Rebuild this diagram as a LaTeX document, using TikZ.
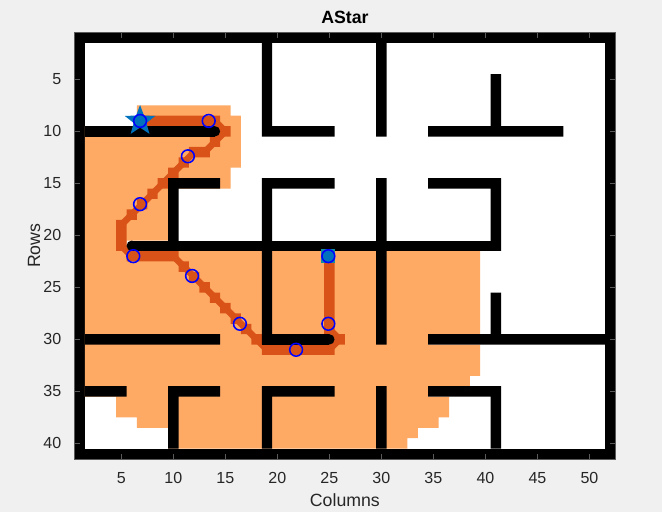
\documentclass[tikz,border=0pt]{standalone}
\usepackage{fontspec}
\setmainfont{Liberation Sans}
\usetikzlibrary{positioning}
\usetikzlibrary{shapes.geometric}
\definecolor{figbg}{RGB}{240,240,240}
\definecolor{explored}{RGB}{254,170,101}
\definecolor{pathred}{RGB}{217,83,25}
\definecolor{mblue}{RGB}{0,114,189}
\definecolor{goalsq}{RGB}{20,140,160}
\definecolor{tickgray}{RGB}{90,90,90}

\begin{document}
\begin{tikzpicture}[x=0.025cm, y=-0.025cm,
    wall/.style={fill=black},
    visited/.style={fill=explored},
    pathcell/.style={fill=pathred},
    pathline/.style={draw=pathred, line width=4.6pt, line join=round},
    waypt/.style={circle, draw=blue, line width=1.1pt, inner sep=0pt, minimum size=0.32cm},
    axtick/.style={draw=tickgray, line width=0.5pt},
    ticklbl/.style={font=\fontsize{11.4}{13}\selectfont, text=black!85},
    axlbl/.style={font=\fontsize{12.6}{15}\selectfont, text=black!85}]

%---------------------------------------
% Figure background (fixes the page size)
%---------------------------------------
\useasboundingbox (0,0) rectangle (662,512);
\fill[figbg] (0,0) rectangle (662,512);

\node[font=\bfseries\fontsize{12.6}{15}\selectfont] (title) at (344.9,17.5) {AStar};
\node[axlbl] (xlab) at (344.9,500) {Columns};
\node[axlbl, rotate=90] (ylab) at (34,245.7) {Rows};

%====================================================
% Map: one unit = one grid cell (column, row)
%====================================================
\begin{scope}[xshift=1.7325cm, yshift=-0.6825cm, x=0.26cm, y=-0.26cm]

  % Occupied border, free interior
  \fill[wall] (0.5,0.5) rectangle (52.5,41.5);
  \fill[white] (1.5,1.5) rectangle (51.5,40.5);

  % ---- Explored cells (c1/c2/r1/r2) ----
  \fill[visited]
    \foreach \ca/\cb/\ra/\rb in {7/15/8/8, 7/16/9/9, 2/16/10/13, 2/15/14/15,
        2/9/16/20, 2/5/21/21, 2/39/22/29, 2/34/30/30, 2/39/31/33, 2/38/34/34,
        2/34/35/35, 5/36/36/37, 7/35/38/38, 10/33/39/39, 10/32/40/40}
      {(\ca-0.5,\ra-0.5) rectangle (\cb+0.5,\rb+0.5)};

  % ---- Path cells and path line ----
  \fill[pathcell]
    \foreach \c/\r in {7/9,8/9,9/9,10/9,11/9,12/9,13/9,14/9,15/10,14/11,13/12,12/12,
        11/13,10/14,9/15,8/16,7/17,6/18,5/19,5/20,5/21,6/22,7/22,8/22,9/22,10/22,
        11/23,12/24,13/25,14/26,15/27,16/28,17/29,18/30,19/31,20/31,21/31,22/31,
        23/31,24/31,25/31,26/30,25/29,25/28,25/27,25/26,25/25,25/24,25/23,25/22}
      {(\c-0.5,\r-0.5) rectangle (\c+0.5,\r+0.5)};
  \draw[pathline] plot coordinates {(7,9) (14,9) (15,10) (14,11) (13,12) (12,12)
      (11,13) (10,14) (9,15) (8,16) (7,17) (6,18) (5,19) (5,21) (6,22) (10,22)
      (11,23) (12,24) (13,25) (14,26) (15,27) (16,28) (17,29) (18,30) (19,31)
      (25,31) (26,30) (25,29) (25,22)};

  % ---- Interior walls (c1/c2/r1/r2) ----
  \fill[wall]
    \foreach \ca/\cb/\ra/\rb in {19/19/2/10, 19/25/10/10, 30/30/2/10, 35/47/10/10,
        41/41/5/10, 10/14/15/15, 10/10/15/21, 19/25/15/15, 19/19/15/30,
        30/30/15/30, 35/41/15/15, 41/41/15/21, 2/14/30/30, 35/51/30/30,
        41/41/26/30, 2/5/35/35, 10/14/35/35, 10/10/35/40, 19/25/35/35,
        19/19/35/40, 30/30/35/40, 35/41/35/35, 41/41/35/40}
      {(\ca-0.5,\ra-0.5) rectangle (\cb+0.5,\rb+0.5)};
  % walls with a rounded end
  \fill[wall] (1.5,9.5) rectangle (14,10.5);
  \fill[wall] (14,10) circle[radius=0.5];
  \fill[wall] (6,20.5) rectangle (41.5,21.5);
  \fill[wall] (6,21) circle[radius=0.5];
  \fill[wall] (18.5,29.5) rectangle (25,30.5);
  \fill[wall] (25,30) circle[radius=0.5];

  % ---- Axes box, ticks and tick labels ----
  \draw[axtick] (0.5,0.5) rectangle (52.5,41.5);
  \foreach \xt in {5,10,...,50} {
    \draw[axtick] (\xt,41.5) -- (\xt,41.02);
    \draw[axtick] (\xt,0.5) -- (\xt,0.98);
    \node[ticklbl] (xt\xt) at (\xt,43.34) {\xt};
  }
  \foreach \yt in {5,10,...,40} {
    \draw[axtick] (0.5,\yt) -- (0.98,\yt);
    \draw[axtick] (52.5,\yt) -- (52.02,\yt);
    \node[ticklbl, anchor=east] (yt\yt) at (-0.3,\yt) {\yt};
  }

  % ---- Start, goal and waypoints ----
  \node[star, star points=5, star point ratio=2.4, fill=mblue, inner sep=0pt,
      minimum size=0.8cm] (start) at (6.8,9.0) {};
  \node[circle, fill=mblue, draw=blue, line width=1.1pt, inner sep=0pt,
      minimum size=0.32cm] (startdot) at (start.center) {};
  \fill[goalsq] (24.9-0.68,22.0-0.68) rectangle (24.9+0.68,22.0+0.68);
  \node[circle, fill=mblue, draw=blue, line width=1.1pt, inner sep=0pt,
      minimum size=0.32cm] (goal) at (24.9,22.0) {};
  \foreach \n/\px/\py in {1/13.4/9.0, 2/11.4/12.4, 3/6.8/17.0, 4/6.15/22.0,
      5/11.8/23.9, 6/16.4/28.5, 7/21.8/31.0, 8/24.9/28.5}
    \node[waypt] (wp\n) at (\px,\py) {};
\end{scope}

\end{tikzpicture}
\end{document}
